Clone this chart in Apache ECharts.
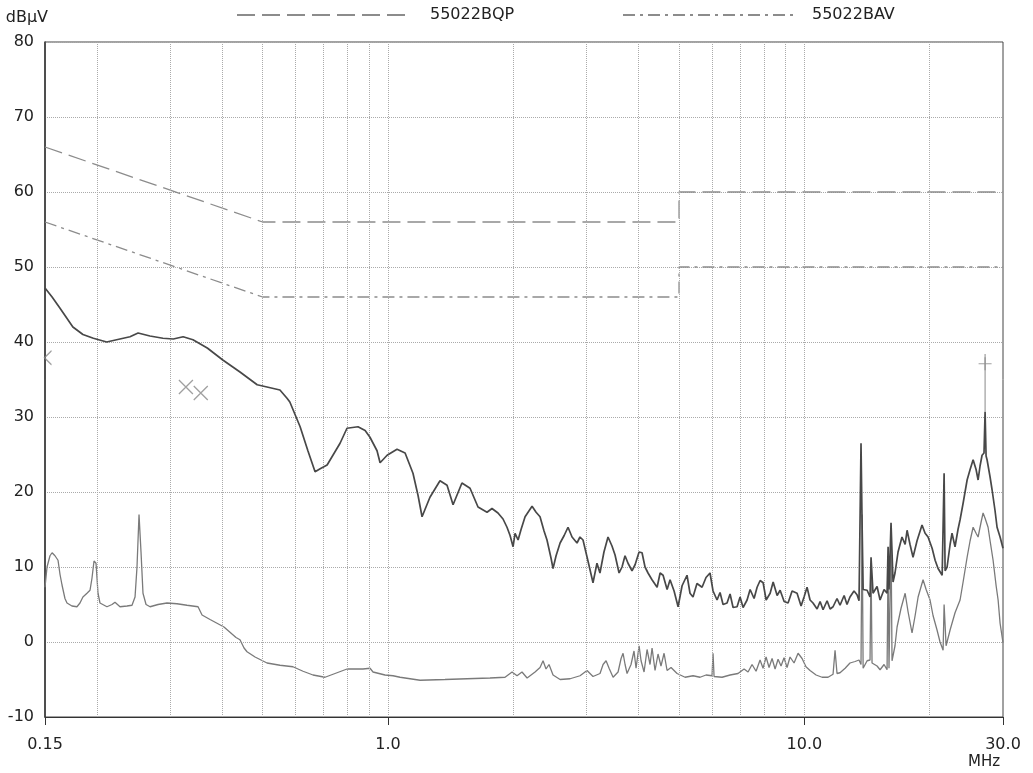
<!DOCTYPE html>
<html>
<head>
<meta charset="utf-8">
<script src="https://cdn.jsdelivr.net/npm/echarts@6/dist/echarts.min.js"></script>
<style>
  html, body { margin: 0; padding: 0; background: #fff; }
  #chart { width: 1033px; height: 773px; }
</style>
</head>
<body>
<div id="chart"></div>
<script>
// limit lines (EN55022 class B)
const qpFreq = [0.15, 0.5, 5, 5, 30];
const qpLevel = [66, 56, 56, 60, 60];
const avFreq = [0.15, 0.5, 5, 5, 30];
const avLevel = [56, 46, 46, 50, 50];

// vertical grid frequencies (MHz)
const gridFreq = [0.2, 0.3, 0.4, 0.5, 0.6, 0.7, 0.8, 0.9, 1, 2, 3, 4, 5, 6, 7, 8, 9, 10, 20];

// peak trace
const pkFreq = [
  0.150, 0.156, 0.163, 0.175, 0.185, 0.196, 0.211, 0.227, 0.240, 0.251, 0.268, 0.288, 0.305, 0.322, 0.340,
  0.368, 0.401, 0.441, 0.485, 0.512, 0.550, 0.572, 0.581, 0.615, 0.642, 0.668, 0.687, 0.714, 0.767, 0.797,
  0.847, 0.881, 0.905, 0.941, 0.957, 0.995, 1.051, 1.099, 1.148, 1.181, 1.207, 1.261, 1.333, 1.386, 1.433,
  1.505, 1.574, 1.645, 1.729, 1.777, 1.837, 1.889, 1.931, 1.964, 1.997, 2.019, 2.053, 2.087, 2.134, 2.218,
  2.268, 2.318, 2.370, 2.409, 2.463, 2.491, 2.533, 2.590, 2.649, 2.706, 2.767, 2.844, 2.891, 2.940, 3.022,
  3.107, 3.176, 3.229, 3.301, 3.376, 3.451, 3.510, 3.589, 3.648, 3.709, 3.771, 3.855, 3.921, 4.009, 4.075,
  4.143, 4.212, 4.306, 4.429, 4.503, 4.578, 4.681, 4.758, 4.865, 4.974, 5.085, 5.226, 5.313, 5.402, 5.522,
  5.679, 5.805, 5.935, 6.035, 6.170, 6.273, 6.379, 6.521, 6.631, 6.742, 6.893, 7.008, 7.126, 7.285, 7.408,
  7.573, 7.700, 7.830, 7.961, 8.095, 8.276, 8.415, 8.602, 8.746, 8.942, 9.139, 9.344, 9.605, 9.820, 9.983,
  10.15, 10.32, 10.49, 10.73, 10.91, 11.09, 11.34, 11.53, 11.72, 11.98, 12.18, 12.46, 12.66, 12.87, 13.16,
  13.38, 13.53, 13.68, 13.76, 13.84, 14.15, 14.38, 14.46, 14.62, 14.95, 15.20, 15.54, 15.80, 15.89, 15.97,
  16.15, 16.33, 16.51, 16.79, 17.16, 17.46, 17.65, 17.94, 18.24, 18.65, 19.17, 19.50, 19.82, 20.27, 20.61,
  20.95, 21.43, 21.66, 21.78, 22.02, 22.39, 22.63, 23.01, 23.39, 23.66, 24.06, 24.60, 25.01, 25.43, 25.85,
  26.14, 26.43, 26.72, 27.01, 27.17, 27.32, 27.47, 27.93, 28.24, 28.71, 29.03, 29.52, 30.0
];
const pkLevel = [
  47.2, 46.0, 44.5, 42.0, 41.0, 40.5, 40.0, 40.4, 40.7, 41.2, 40.8, 40.5, 40.4, 40.7, 40.3,
  39.2, 37.6, 36.0, 34.3, 34.0, 33.6, 32.5, 32.0, 28.7, 25.5, 22.7, 23.1, 23.6, 26.5, 28.5,
  28.7, 28.2, 27.3, 25.5, 23.9, 24.9, 25.7, 25.2, 22.5, 19.5, 16.7, 19.3, 21.5, 20.9, 18.3,
  21.2, 20.5, 18.0, 17.3, 17.8, 17.2, 16.4, 15.3, 14.2, 12.7, 14.5, 13.6, 15.0, 16.7, 18.1,
  17.3, 16.7, 14.8, 13.6, 11.2, 9.8, 11.5, 13.2, 14.2, 15.3, 14.0, 13.2, 14.0, 13.6, 10.8,
  7.9, 10.5, 9.2, 12.0, 14.0, 12.8, 11.6, 9.2, 10.0, 11.5, 10.5, 9.5, 10.3, 12.0, 11.9,
  10.0, 9.2, 8.3, 7.3, 9.2, 8.9, 7.0, 8.3, 6.8, 4.7, 7.5, 8.9, 6.5, 6.0, 7.8,
  7.3, 8.6, 9.2, 6.8, 5.6, 6.6, 5.0, 5.2, 6.4, 4.6, 4.7, 6.0, 4.6, 5.6, 7.0,
  5.8, 7.3, 8.2, 7.9, 5.6, 6.5, 8.0, 6.2, 6.9, 5.4, 5.2, 6.8, 6.5, 4.8, 6.0,
  7.3, 5.6, 5.2, 4.4, 5.4, 4.3, 5.5, 4.4, 4.7, 5.8, 4.9, 6.2, 5.0, 6.0, 6.8,
  6.3, 5.5, 26.5, 16.0, 7.0, 6.9, 6.0, 11.3, 6.5, 7.4, 5.6, 7.0, 6.5, 12.7, 7.0,
  15.9, 8.0, 9.2, 12.0, 14.0, 13.0, 14.9, 13.0, 11.3, 13.5, 15.6, 14.5, 14.0, 12.5, 10.9,
  9.8, 8.9, 22.5, 9.5, 10.0, 13.0, 14.5, 12.7, 15.0, 16.3, 18.5, 21.6, 23.0, 24.3, 23.0,
  21.6, 23.5, 24.9, 25.2, 30.7, 24.8, 24.3, 22.0, 20.3, 17.5, 15.3, 14.0, 12.5
];

// average trace
const avgFreq = [
  0.150, 0.1517, 0.1542, 0.156, 0.1585, 0.1612, 0.163, 0.1648, 0.1675, 0.1694, 0.1741, 0.179, 0.182, 0.185, 0.1892,
  0.1924, 0.1945, 0.1967, 0.1989, 0.2011, 0.2033, 0.2113, 0.2173, 0.2209, 0.2271, 0.2361, 0.2427, 0.2468, 0.2495, 0.2523,
  0.2551, 0.2579, 0.2623, 0.2682, 0.2803, 0.2945, 0.3112, 0.329, 0.3497, 0.3575, 0.3737, 0.3884, 0.4036, 0.4173, 0.4314,
  0.441, 0.451, 0.4585, 0.4793, 0.5121, 0.5502, 0.5911, 0.625, 0.6604, 0.7058, 0.746, 0.7971, 0.8707, 0.9053, 0.9204,
  0.9835, 1.028, 1.069, 1.194, 1.370, 1.548, 1.758, 1.910, 1.986, 2.041, 2.098, 2.158, 2.255, 2.318, 2.357,
  2.396, 2.436, 2.491, 2.590, 2.737, 2.892, 3.006, 3.107, 3.230, 3.285, 3.340, 3.396, 3.472, 3.569, 3.629,
  3.669, 3.710, 3.751, 3.834, 3.898, 3.942, 4.009, 4.053, 4.121, 4.190, 4.259, 4.307, 4.379, 4.452, 4.525,
  4.603, 4.680, 4.784, 4.946, 5.170, 5.403, 5.617, 5.805, 6.001, 6.035, 6.069, 6.343, 6.631, 6.929, 7.165,
  7.325, 7.488, 7.656, 7.827, 7.958, 8.092, 8.227, 8.365, 8.505, 8.647, 8.790, 8.937, 9.087, 9.239, 9.446,
  9.658, 9.874, 10.09, 10.32, 10.67, 11.03, 11.40, 11.72, 11.85, 11.98, 12.18, 12.53, 12.87, 13.24, 13.53,
  13.68, 13.76, 13.84, 14.15, 14.38, 14.46, 14.54, 14.95, 15.20, 15.54, 15.80, 15.89, 15.97, 16.15, 16.24,
  16.51, 16.70, 17.07, 17.46, 17.75, 18.14, 18.45, 18.76, 19.28, 19.61, 20.04, 20.38, 20.83, 21.18, 21.54,
  21.66, 21.90, 22.39, 23.01, 23.66, 24.06, 24.60, 25.01, 25.43, 25.85, 26.14, 26.58, 26.87, 27.17, 27.62,
  27.93, 28.40, 28.88, 29.20, 29.52, 30.0
];
const avgLevel = [
  7.3, 10.0, 11.5, 11.9, 11.5, 10.9, 9.0, 7.6, 5.8, 5.2, 4.8, 4.7, 5.2, 6.0, 6.5,
  6.9, 8.5, 10.8, 10.5, 6.5, 5.2, 4.7, 5.0, 5.3, 4.7, 4.8, 4.9, 6.0, 10.0, 17.0,
  12.0, 6.5, 5.0, 4.7, 5.0, 5.2, 5.1, 4.9, 4.7, 3.6, 3.0, 2.5, 2.0, 1.3, 0.6,
  0.3, -0.8, -1.3, -2.0, -2.8, -3.1, -3.3, -3.9, -4.4, -4.7, -4.2, -3.6, -3.6, -3.5, -4.0,
  -4.4, -4.5, -4.7, -5.1, -5.0, -4.9, -4.8, -4.7, -4.0, -4.5, -4.0, -4.8, -4.0, -3.4, -2.5,
  -3.6, -3.0, -4.4, -5.0, -4.9, -4.5, -3.8, -4.6, -4.2, -3.0, -2.5, -3.5, -4.7, -4.0, -2.2,
  -1.5, -3.0, -4.2, -3.0, -1.2, -3.5, -0.5, -2.5, -4.0, -1.0, -3.0, -0.8, -3.8, -1.6, -3.2,
  -1.5, -3.8, -3.4, -4.2, -4.7, -4.5, -4.7, -4.4, -4.5, -1.5, -4.6, -4.7, -4.4, -4.2, -3.6,
  -4.0, -3.0, -3.9, -2.4, -3.5, -2.0, -3.4, -2.2, -3.6, -2.3, -3.2, -2.1, -3.4, -2.0, -2.8,
  -1.5, -2.2, -3.3, -3.8, -4.4, -4.7, -4.7, -4.3, -1.1, -4.2, -4.1, -3.5, -2.8, -2.6, -2.4,
  -3.0, 17.0, -3.5, -2.5, -2.4, 10.5, -2.8, -3.2, -3.7, -3.0, -3.7, 11.0, -3.5, 14.0, -2.5,
  -0.5, 2.0, 4.5, 6.5, 4.0, 1.2, 3.5, 6.0, 8.3, 7.0, 5.6, 3.5, 1.6, 0.0, -1.1,
  5.0, -0.5, 1.6, 3.9, 5.6, 8.0, 11.3, 13.5, 15.3, 14.5, 14.0, 16.0, 17.2, 16.5, 15.3,
  13.5, 10.9, 7.5, 5.6, 2.5, -0.1
];

// final measurement markers
const xMarkFreq = [0.327, 0.355];
const xMarkLevel = [34.0, 33.2];
const edgeMarkFreq = [0.15];
const edgeMarkLevel = [37.9];
const plusFreq = [27.17];
const plusLevel = [37.1];
const cursorLevel = [30.7, 38.4];

const zip = (a, b) => a.map((v, i) => [v, b[i]]);
const FONT = 'DejaVu Sans';

let chart = echarts.init(document.getElementById('chart'), null, {renderer: 'canvas'});

const legendBase = {
    top: 2, itemWidth: 170, itemHeight: 14,
    itemStyle: {opacity: 0},
    inactiveColor: '#8c8c8c'
};

let option = {
    animation: false,
    backgroundColor: '#fff',
    textStyle: {fontFamily: FONT},
    grid: {left: 45, right: 30, top: 42, bottom: 56, show: true, borderColor: '#444', borderWidth: 1},
    legend: [
        Object.assign({}, legendBase, {
            data: ['55022BQP'], left: 231,
            textStyle: {fontFamily: FONT, fontSize: 16, color: '#222', padding: [0, 0, 0, 18]}
        }),
        Object.assign({}, legendBase, {
            data: ['55022BAV'], left: 617,
            textStyle: {fontFamily: FONT, fontSize: 16, color: '#222', padding: [0, 0, 0, 14]}
        })
    ],
    xAxis: {
        type: 'log', logBase: 10, min: 0.15, max: 30,
        name: 'MHz', nameLocation: 'end', nameGap: -35,
        nameTextStyle: {fontFamily: FONT, fontSize: 15, color: '#222', verticalAlign: 'top', padding: [38, 0, 0, 0]},
        axisLine: {onZero: false, lineStyle: {color: '#333', width: 1.2}},
        axisTick: {show: true, length: 8, lineStyle: {color: '#333'}},
        axisLabel: {
            margin: 20, fontFamily: FONT, fontSize: 16, color: '#222',
            showMinLabel: true, showMaxLabel: true,
            formatter: v => v < 1 ? v.toFixed(2) : v.toFixed(1)
        },
        splitLine: {show: false},
        minorTick: {show: false}
    },
    yAxis: {
        type: 'value', min: -10, max: 80, interval: 10,
        name: 'dBµV', nameLocation: 'end', nameGap: 16,
        nameTextStyle: {fontFamily: FONT, fontSize: 16, color: '#222', align: 'right', padding: [0, -3, 0, 0]},
        axisLine: {show: true, lineStyle: {color: '#333', width: 1.5}},
        axisTick: {show: false},
        axisLabel: {margin: 11, fontFamily: FONT, fontSize: 16, color: '#222'},
        splitLine: {show: true, lineStyle: {type: 'dotted', color: '#aaa', width: 1}}
    },
    series: [
        {
            name: '55022BQP', type: 'line', symbol: 'none', z: 3,
            data: zip(qpFreq, qpLevel),
            itemStyle: {color: '#8c8c8c'},
            lineStyle: {color: '#8c8c8c', width: 1.3, type: [18, 7]},
            markLine: {
                silent: true, symbol: ['none', 'none'], label: {show: false},
                lineStyle: {type: 'dotted', color: '#aaa', width: 1},
                data: gridFreq.map(f => ({xAxis: f}))
            }
        },
        {
            name: '55022BAV', type: 'line', symbol: 'none', z: 3,
            data: zip(avFreq, avLevel),
            itemStyle: {color: '#8c8c8c'},
            lineStyle: {color: '#8c8c8c', width: 1.3, type: [12, 5, 3, 5]}
        },
        {
            name: 'Peak', type: 'line', symbol: 'none', z: 5,
            data: zip(pkFreq, pkLevel),
            lineStyle: {color: '#484848', width: 1.7}
        },
        {
            name: 'Average', type: 'line', symbol: 'none', z: 4,
            data: zip(avgFreq, avgLevel),
            lineStyle: {color: '#7a7a7a', width: 1.3}
        },
        {
            name: 'QP marks', type: 'scatter', z: 6,
            symbol: 'path://M0,0L10,10M10,0L0,10', symbolSize: 14,
            data: zip(xMarkFreq, xMarkLevel),
            itemStyle: {color: 'none', borderColor: '#888', borderWidth: 1.3}
        },
        {
            name: 'Edge mark', type: 'scatter', z: 6,
            symbol: 'path://M10,0L0,10L10,20', symbolSize: [7, 14], symbolOffset: [3, 0],
            data: zip(edgeMarkFreq, edgeMarkLevel),
            itemStyle: {color: 'none', borderColor: '#888', borderWidth: 1.3}
        },
        {
            name: 'Cursor', type: 'line', symbol: 'none', z: 6,
            data: zip([plusFreq[0], plusFreq[0]], cursorLevel),
            lineStyle: {color: '#888', width: 1}
        },
        {
            name: 'Plus mark', type: 'scatter', z: 6,
            symbol: 'path://M5,0L5,10M0,5L10,5', symbolSize: 13,
            data: zip(plusFreq, plusLevel),
            itemStyle: {color: 'none', borderColor: '#888', borderWidth: 1.2}
        }
    ]
};

chart.setOption(option);
window.addEventListener('resize', function () {
    chart.resize();
});
</script>
</body>
</html>
